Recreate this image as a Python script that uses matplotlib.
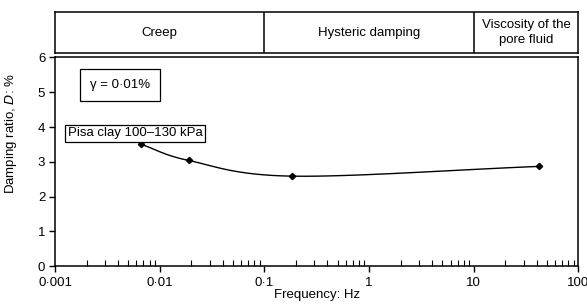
import matplotlib
matplotlib.use("Agg")
import matplotlib.pyplot as plt
import matplotlib.ticker as mticker
import numpy as np

plt.rcParams['font.family'] = ['Liberation Sans', 'DejaVu Sans']
plt.rcParams['font.size'] = 9.5

# data
freq = [0.0067, 0.019, 0.185, 42.0]
damping = [3.50, 3.04, 2.59, 2.87]

bands = ["Creep", "Hysteric damping", "Viscosity of the\npore fluid"]
band_edges = [0.001, 0.1, 10, 100]

x_major = [0.001, 0.01, 0.1, 1, 10, 100]
x_labels = ["0·001", "0·01", "0·1", "1", "10", "100"]
y_major = [0, 1, 2, 3, 4, 5, 6]


def smooth(xs, ys, n=40):
    # Catmull-Rom curve through the points, in log-x space
    lx = np.log10(xs)
    y = np.asarray(ys, float)
    px = np.concatenate([[2 * lx[0] - lx[1]], lx, [2 * lx[-1] - lx[-2]]])
    py = np.concatenate([[2 * y[0] - y[1]], y, [2 * y[-1] - y[-2]]])
    ox, oy = [], []
    t = np.linspace(0, 1, n)
    for i in range(1, len(px) - 2):
        for p, o in ((px, ox), (py, oy)):
            p0, p1, p2, p3 = p[i - 1], p[i], p[i + 1], p[i + 2]
            o.extend(0.5 * (2 * p1 + (-p0 + p2) * t
                            + (2 * p0 - 5 * p1 + 4 * p2 - p3) * t ** 2
                            + (-p0 + 3 * p1 - 3 * p2 + p3) * t ** 3))
    return 10 ** np.array(ox), np.array(oy)


fig = plt.figure(figsize=(5.87, 3.05), dpi=100)
left, right = 0.0937, 0.9855
ax = fig.add_axes([left, 0.127, right - left, 0.6845])
bx = fig.add_axes([left, 0.825, right - left, 0.1366])

# main plot
sx, sy = smooth(freq, damping)
ax.plot(sx, sy, color='black', lw=1.0)
ax.plot(freq, damping, linestyle='none', marker='D', ms=3.2, color='black')

ax.set_xscale('log')
ax.set_xlim(0.001, 100)
ax.set_ylim(0, 6)
ax.xaxis.set_major_locator(mticker.FixedLocator(x_major))
ax.xaxis.set_major_formatter(mticker.FixedFormatter(x_labels))
ax.xaxis.set_minor_locator(mticker.LogLocator(base=10, subs=np.arange(2, 10)))
ax.xaxis.set_minor_formatter(mticker.NullFormatter())
ax.set_yticks(y_major)
ax.tick_params(axis='x', which='major', direction='out', length=4, width=1, pad=4)
ax.tick_params(axis='x', which='minor', direction='in', length=4, width=0.8)
ax.tick_params(axis='y', direction='out', length=4, width=1, pad=3)
for s in ax.spines.values():
    s.set_linewidth(1.1)

ax.set_xlabel("Frequency: Hz", labelpad=0)
ax.set_ylabel("Damping ratio, $\\mathit{D}$: %")
ax.yaxis.set_label_coords(-0.068, 0.636)

ax.text(0.0042, 5.2, "γ = 0·01%", ha='center', va='center',
        bbox=dict(boxstyle='square,pad=0.75', fc='white', ec='black', lw=0.9))
ax.text(0.0058, 3.82, "Pisa clay 100–130 kPa", ha='center', va='center',
        bbox=dict(boxstyle='square,pad=0.2', fc='white', ec='black', lw=0.9))

# band of mechanisms above
bx.set_xscale('log')
bx.set_xlim(0.001, 100)
bx.set_ylim(0, 1)
bx.set_xticks([])
bx.set_yticks([])
bx.xaxis.set_minor_locator(mticker.NullLocator())
for s in bx.spines.values():
    s.set_linewidth(1.1)
for e in band_edges[1:-1]:
    bx.axvline(e, color='black', lw=1.1)
for i, name in enumerate(bands):
    c = 10 ** ((np.log10(band_edges[i]) + np.log10(band_edges[i + 1])) / 2)
    bx.text(c, 0.5, name, ha='center', va='center', linespacing=1.3)

fig.savefig("out.png", dpi=100)
plt.close(fig)
